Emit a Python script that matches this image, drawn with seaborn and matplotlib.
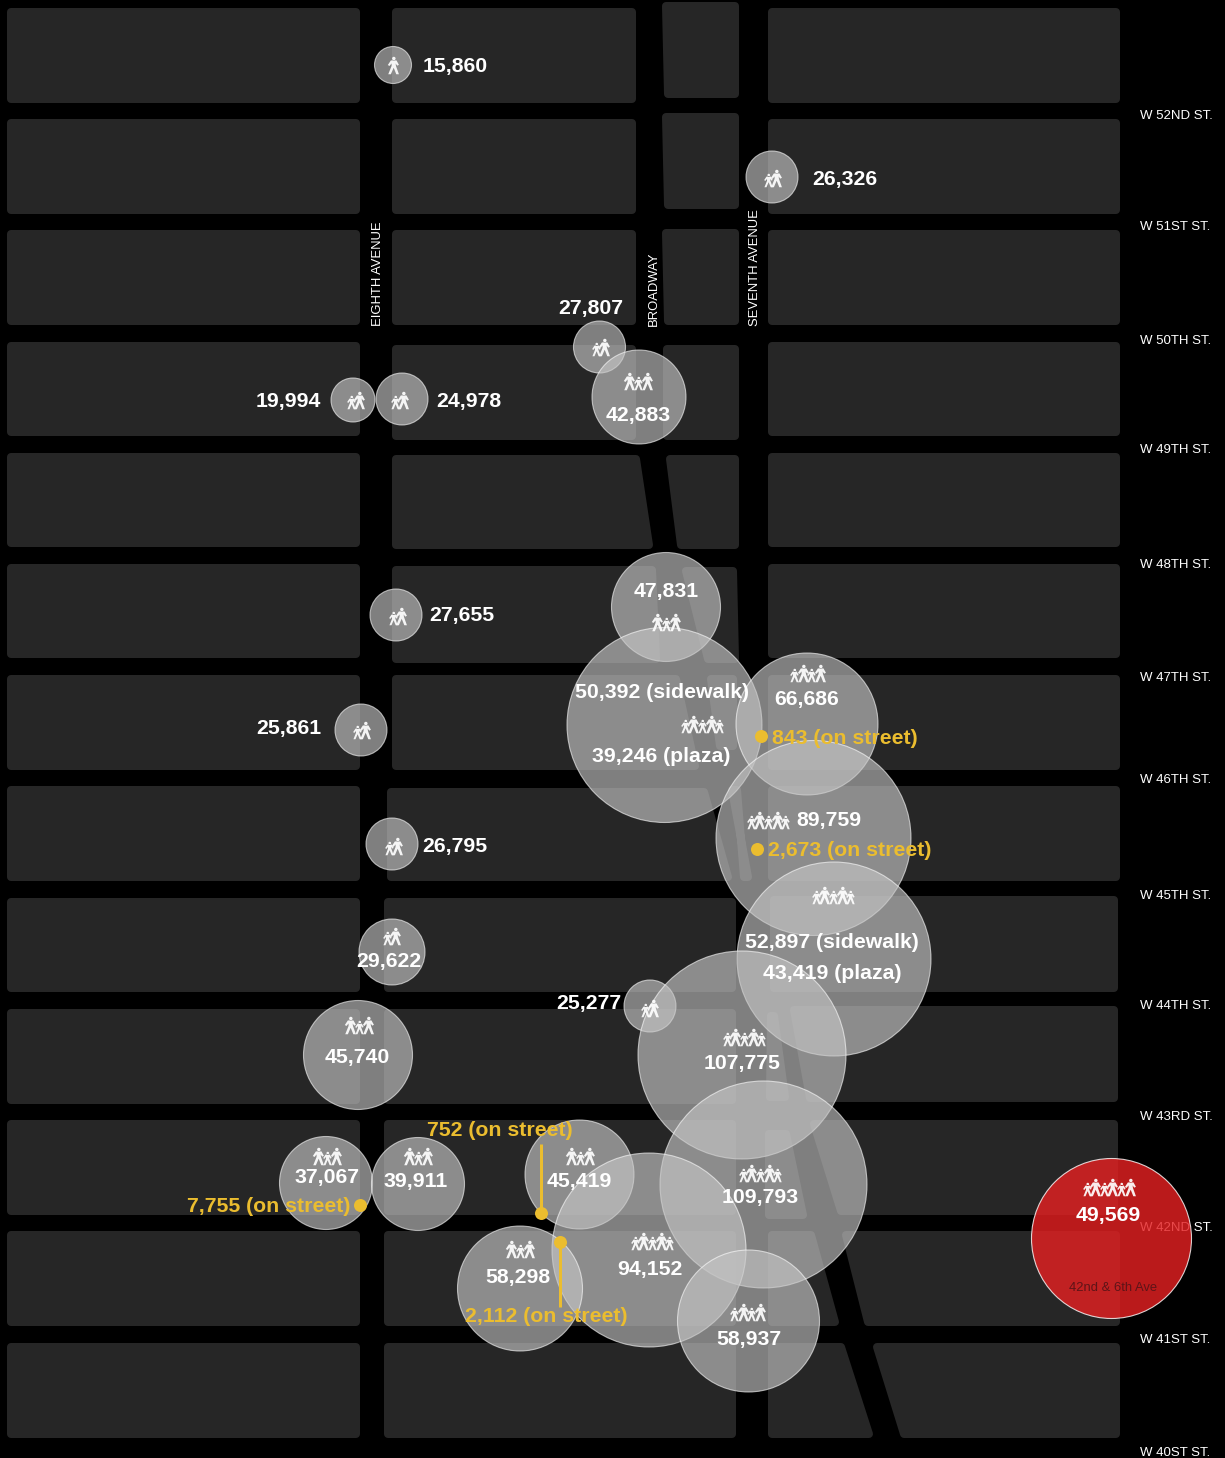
import numpy as np
import pandas as pd
import seaborn as sns
import matplotlib
matplotlib.use('Agg')
import matplotlib.pyplot as plt
from matplotlib.patches import Polygon
from matplotlib.path import Path

sns.set_theme(style='white')
plt.rcParams['font.family'] = ['Liberation Sans', 'DejaVu Sans']

# Pedestrian counts, one entry per bubble on the map (picture pixels)
site_x = [393, 772, 599.5, 353, 402, 639, 666, 396, 664.5, 807, 361, 392, 813.5, 834,
          392, 650, 358, 742, 326, 418, 579.5, 763.5, 649, 520, 748.5]
site_y = [65, 177, 347, 400, 399, 397, 607, 615, 725, 724, 730, 844, 838, 959,
          952, 1006, 1055, 1055, 1183, 1184, 1174.5, 1184.5, 1250, 1288.5, 1321]
site_r = [18.5, 26, 26, 22, 26, 47, 54.5, 26, 97.5, 71, 26, 26, 97.5, 97,
          33, 26, 54.5, 104, 46.5, 46.5, 54.5, 103.5, 97, 62.5, 71]
site_people = [1, 2, 2, 2, 2, 3, 3, 2, 5, 4, 2, 2, 5, 5, 2, 2, 3, 5, 3, 3, 3, 5, 5, 3, 4]
icon_x = [393, 772, 600, 355, 399, 638, 666, 397, 702, 807, 361, 393, 768, 833,
          391, 649, 359, 744, 327, 418, 580, 760, 652, 520, 747]
icon_y = [65, 178, 347, 400, 400, 381, 622, 616, 724, 673, 730, 846, 820, 895,
          936, 1008, 1025, 1037, 1156, 1156, 1156, 1173, 1241, 1249, 1312]

# the red one, 42nd & 6th
red_x = [1111]
red_y = [1238]
red_r = [80]
red_icon = (1108, 1187, 6)

# label, x, y, ha
count_labels = [
    ('15,860', 423, 65, 'left'), ('26,326', 812, 178, 'left'), ('27,807', 591, 307, 'center'),
    ('19,994', 321, 400, 'right'), ('24,978', 436, 400, 'left'), ('42,883', 638, 414, 'center'),
    ('47,831', 666, 590, 'center'), ('27,655', 429, 614, 'left'),
    ('50,392 (sidewalk)', 662, 691, 'center'), ('39,246 (plaza)', 661, 755, 'center'),
    ('66,686', 807, 698, 'center'), ('25,861', 321, 727, 'right'), ('26,795', 422, 845, 'left'),
    ('89,759', 796, 819, 'left'), ('52,897 (sidewalk)', 832, 941, 'center'),
    ('43,419 (plaza)', 832, 972, 'center'), ('29,622', 389, 960, 'center'),
    ('25,277', 621, 1002, 'right'), ('45,740', 357, 1057, 'center'), ('107,775', 742, 1062, 'center'),
    ('37,067', 327, 1177, 'center'), ('39,911', 416, 1180, 'center'), ('45,419', 579, 1180, 'center'),
    ('109,793', 760, 1197, 'center'), ('58,298', 518, 1277, 'center'), ('94,152', 650, 1268, 'center'),
    ('58,937', 749, 1338, 'center'), ('49,569', 1108, 1215, 'center'),
]
street_labels = [
    ('843 (on street)', 772, 737, 'left'), ('2,673 (on street)', 768, 849, 'left'),
    ('752 (on street)', 500, 1129, 'center'), ('7,755 (on street)', 350, 1206, 'right'),
    ('2,112 (on street)', 546, 1316, 'center'),
]
dot_x = [761, 757, 360, 541, 560]
dot_y = [736, 849, 1205, 1213, 1242]
stem_x = [541, 560]
stem_top = [1144, 1242]
stem_bottom = [1213, 1307]

cross_streets = ['W 52ND ST.', 'W 51ST ST.', 'W 50TH ST.', 'W 49TH ST.', 'W 48TH ST.', 'W 47TH ST.',
                 'W 46TH ST.', 'W 45TH ST.', 'W 44TH ST.', 'W 43RD ST.', 'W 42ND ST.', 'W 41ST ST.',
                 'W 40ST ST.']
cross_y = [115, 226, 340, 449, 564, 677, 779, 895, 1005, 1116, 1227, 1339, 1452]
avenues = [('EIGHTH AVENUE', 376), ('BROADWAY', 652), ('SEVENTH AVENUE', 753)]

# city blocks: y top, y bottom, x left top, x right top, x left bottom, x right bottom
blocks = [
    (8, 103, 7, 360, 7, 360), (119, 214, 7, 360, 7, 360), (230, 325, 7, 360, 7, 360),
    (342, 436, 7, 360, 7, 360), (453, 547, 7, 360, 7, 360), (564, 658, 7, 360, 7, 360),
    (675, 770, 7, 360, 7, 360), (786, 881, 7, 360, 7, 360), (898, 992, 7, 360, 7, 360),
    (1009, 1104, 7, 360, 7, 360), (1120, 1215, 7, 360, 7, 360), (1231, 1326, 7, 360, 7, 360),
    (1343, 1438, 7, 360, 7, 360),
    (8, 103, 392, 636, 392, 636), (119, 214, 392, 636, 392, 636), (230, 325, 392, 636, 392, 636),
    (345, 440, 392, 636, 392, 636), (455, 549, 392, 640, 392, 653), (566, 663, 392, 656, 392, 660),
    (675, 770, 392, 680, 392, 699), (788, 881, 387, 708, 387, 732), (898, 992, 384, 736, 384, 736),
    (1009, 1104, 384, 736, 384, 736), (1120, 1215, 384, 736, 384, 736),
    (1231, 1326, 384, 736, 384, 736), (1343, 1438, 384, 736, 384, 736),
    (2, 98, 662, 739, 664, 739), (113, 209, 662, 739, 664, 739), (229, 325, 662, 739, 664, 739),
    (345, 440, 663, 739, 663, 739), (455, 549, 666, 739, 677, 739), (567, 663, 682, 737, 704, 739),
    (675, 750, 707, 737, 716, 737), (786, 881, 728, 741, 744, 748),
    (8, 103, 768, 1120, 768, 1120), (119, 214, 768, 1120, 768, 1120), (230, 325, 768, 1120, 768, 1120),
    (342, 436, 768, 1120, 768, 1120), (453, 547, 768, 1120, 768, 1120), (564, 658, 768, 1120, 768, 1120),
    (675, 770, 768, 1120, 768, 1120), (786, 881, 768, 1120, 768, 1120), (896, 992, 770, 1118, 770, 1118),
    (1012, 1101, 767, 778, 766, 789), (1006, 1102, 790, 1118, 806, 1118),
    (1130, 1219, 765, 790, 765, 807), (1120, 1215, 810, 1118, 837, 1118),
    (1231, 1326, 768, 815, 768, 839), (1231, 1326, 842, 1120, 864, 1120),
    (1343, 1438, 768, 845, 768, 873), (1343, 1438, 873, 1120, 900, 1120),
]

PX = 72 / 100  # points per pixel at dpi 100
BIG_H = 17.5
SMALL_H = 13.5
PITCH = 8.6
CORNER = 4
TEXT_DY = 1


def person_marker():
    t = np.linspace(0, 2 * np.pi, 16)
    head = np.column_stack([0.04 + 0.2 * np.cos(t), 0.8 + 0.2 * np.sin(t)])
    body = np.array([(-0.3, 0.58), (0.34, 0.58), (0.62, 0.08), (0.42, -0.02), (0.24, 0.24), (0.28, -0.05),
                     (0.62, -1), (0.32, -1), (0.02, -0.25), (-0.3, -1), (-0.6, -1), (-0.22, -0.05),
                     (-0.22, 0.24), (-0.45, -0.05), (-0.65, 0.05), (-0.3, 0.58)])
    verts = np.vstack([head, head[:1], body])
    codes = ([Path.MOVETO] + [Path.LINETO] * 15 + [Path.CLOSEPOLY]
             + [Path.MOVETO] + [Path.LINETO] * 14 + [Path.CLOSEPOLY])
    return Path(verts, codes)


def person_rows(icons):
    big, small = [], []
    for cx, cy, n in icons:
        for i in range(n):
            px = cx + (i - (n - 1) / 2) * PITCH
            # 3 walkers are big small big, everything else starts small
            is_big = (i % 2 == 1) if n != 3 else (i != 1)
            if n == 1:
                is_big = True
            if is_big:
                big.append((px, cy))
            else:
                small.append((px, cy + (BIG_H - SMALL_H) / 2))
    return big, small


fig = plt.figure(figsize=(12.25, 14.58), dpi=100, facecolor='black')
ax = fig.add_axes([0, 0, 1, 1])
ax.set_facecolor('black')
ax.set_xlim(0, 1225)
ax.set_ylim(1458, 0)
ax.axis('off')

for y0, y1, xa, xb, xc, xd in blocks:
    pts = [(xa + CORNER, y0 + CORNER), (xb - CORNER, y0 + CORNER), (xd - CORNER, y1 - CORNER), (xc + CORNER, y1 - CORNER)]
    ax.add_patch(Polygon(pts, closed=True, facecolor='#262626', edgecolor='#262626',
                         linewidth=2 * CORNER * PX, joinstyle='round', zorder=1))

for name, y in zip(cross_streets, cross_y):
    ax.text(1140, y + TEXT_DY, name, color='white', fontsize=9.5, ha='left', va='center', zorder=2)
for name, x in avenues:
    ax.text(x + 2, 326, name, color='white', fontsize=9.4, rotation=90, ha='center', va='bottom', zorder=2)

sites = pd.DataFrame({'x': site_x, 'y': site_y, 'r': site_r})
areas = {r: (2 * r * PX) ** 2 for r in sites['r'].unique()}
sns.scatterplot(data=sites, x='x', y='y', size='r', sizes=areas, legend=False, ax=ax,
                marker='o', zorder=3, clip_on=False)
bubbles = ax.collections[-1]
bubbles.set_facecolor((0.77, 0.77, 0.77, 0.65))
bubbles.set_edgecolor((1, 1, 1, 0.6))
bubbles.set_linewidth(1.1 * PX)

red = pd.DataFrame({'x': red_x, 'y': red_y})
sns.scatterplot(data=red, x='x', y='y', s=(2 * red_r[0] * PX) ** 2, legend=False, ax=ax,
                marker='o', zorder=3)
ax.collections[-1].set_facecolor((0.894, 0.124, 0.134, 0.82))
ax.collections[-1].set_edgecolor((1, 1, 1, 0.8))
ax.collections[-1].set_linewidth(1.1 * PX)

icons = list(zip(icon_x, icon_y, site_people)) + [red_icon]
big, small = person_rows(icons)
walker = person_marker()
for rows, h in ((big, BIG_H), (small, SMALL_H)):
    df = pd.DataFrame(rows, columns=['x', 'y'])
    sns.scatterplot(data=df, x='x', y='y', marker=walker, s=(h * PX) ** 2, legend=False, ax=ax,
                    color='white', alpha=0.92, linewidth=0, zorder=4)

for x, top, bottom in zip(stem_x, stem_top, stem_bottom):
    ax.plot([x, x], [top, bottom], color='#EBBD2F', lw=3 * PX, solid_capstyle='butt', zorder=5)
sns.scatterplot(x=dot_x, y=dot_y, s=(13 * PX) ** 2, color='#EBBD2F', linewidth=0, legend=False, ax=ax, zorder=5)

for label, x, y, ha in count_labels:
    ax.text(x, y + TEXT_DY, label, color='white', fontsize=15.3, fontweight='bold', ha=ha, va='center', zorder=6)
for label, x, y, ha in street_labels:
    ax.text(x, y + TEXT_DY, label, color='#EBBD2F', fontsize=15.3, fontweight='bold', ha=ha, va='center', zorder=6)
ax.text(1113, 1288, '42nd & 6th Ave', color='#5E1418', fontsize=9.4, ha='center', va='center', zorder=6)

fig.savefig('out.png', dpi=100, facecolor='black')
